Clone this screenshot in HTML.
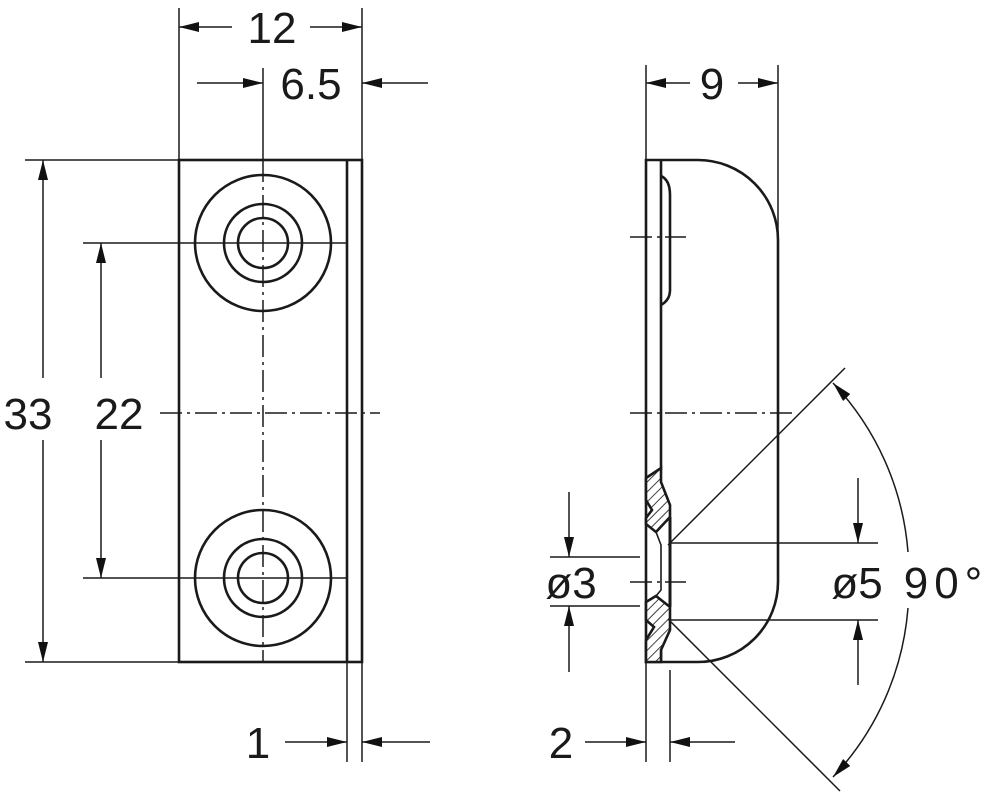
<!DOCTYPE html>
<html><head><style>html,body{margin:0;padding:0;background:#fff}svg{display:block}</style></head><body>
<svg width="1000" height="796" viewBox="0 0 1000 796" xmlns="http://www.w3.org/2000/svg">
<defs>
<marker id="a" viewBox="0 0 20 10" refX="20" refY="5" markerWidth="20" markerHeight="10" markerUnits="userSpaceOnUse" orient="auto"><path d="M0,0L20,5L0,10z" fill="#111"/></marker>
<pattern id="h" width="7" height="7" patternUnits="userSpaceOnUse" patternTransform="rotate(-45)"><rect width="7" height="7" fill="#fff"/><line x1="0" y1="0" x2="7" y2="0" stroke="#111" stroke-width="1.6"/></pattern>
</defs>
<g fill="none" stroke="#1a1a1a" font-family="Liberation Sans, sans-serif">
<!-- left view -->
<rect x="179" y="160" width="183" height="502" stroke-width="2.6"/>
<line x1="347" y1="160" x2="347" y2="662" stroke-width="2.6"/>
<g stroke-width="2.6">
<circle cx="263" cy="243" r="68"/><circle cx="263" cy="243" r="39"/><circle cx="263" cy="243" r="25"/>
<circle cx="263" cy="578" r="68"/><circle cx="263" cy="578" r="39"/><circle cx="263" cy="578" r="25"/>
</g>
<g stroke-width="1.5" stroke-dasharray="22,5,3,5">
<line x1="263" y1="160" x2="263" y2="662"/>
<line x1="160" y1="413" x2="380" y2="413"/>
</g>
<g stroke-width="1.5">
<line x1="263" y1="68" x2="263" y2="160"/>
<line x1="179" y1="8" x2="179" y2="160"/>
<line x1="362" y1="8" x2="362" y2="762"/>
<line x1="347" y1="662" x2="347" y2="762"/>
<line x1="25" y1="160" x2="179" y2="160"/>
<line x1="25" y1="662" x2="179" y2="662"/>
<line x1="83" y1="243" x2="347" y2="243"/>
<line x1="83" y1="578" x2="347" y2="578"/>
<line x1="232" y1="27" x2="179" y2="27" marker-end="url(#a)"/>
<line x1="310" y1="27" x2="362" y2="27" marker-end="url(#a)"/>
<line x1="197" y1="83" x2="263" y2="83" marker-end="url(#a)"/>
<line x1="428" y1="83" x2="362" y2="83" marker-end="url(#a)"/>
<line x1="43" y1="378" x2="43" y2="160" marker-end="url(#a)"/>
<line x1="43" y1="440" x2="43" y2="662" marker-end="url(#a)"/>
<line x1="101" y1="378" x2="101" y2="243" marker-end="url(#a)"/>
<line x1="101" y1="440" x2="101" y2="578" marker-end="url(#a)"/>
<line x1="285" y1="742" x2="347" y2="742" marker-end="url(#a)"/>
<line x1="430" y1="742" x2="362" y2="742" marker-end="url(#a)"/>
</g>
<!-- right view -->
<g stroke-width="2.6">
<path d="M646,160 L698,160 A80,80 0 0 1 778,240 L778,582 A80,80 0 0 1 698,662 L646,662 Z"/>
<line x1="661" y1="160" x2="661" y2="470"/>
<path d="M661,176 Q670,180 670,195 L670,290 Q670,300 661,305"/>
<line x1="670" y1="517" x2="670" y2="607" stroke-width="3"/>
<line x1="661" y1="640" x2="661" y2="662"/>
<path d="M646,478 L661,468 L661,482 L670,505 L670,517 L656,532 L646,524 L646,518 L652,510 L646,500 Z" fill="url(#h)"/>
<path d="M646,602 L656,596 L670,607 L670,630 L661,650 L661,662 L646,662 L646,640 L654,627 L646,620 Z" fill="url(#h)"/>
<path d="M656,532 L661,545 L661,590 L656,596" stroke-width="1.6"/>
</g>
<g stroke-width="1.5" stroke-dasharray="22,5,3,5">
<line x1="630" y1="413" x2="797" y2="413"/>
<line x1="630" y1="237" x2="686" y2="237"/>
<line x1="630" y1="582" x2="686" y2="582"/>
</g>
<g stroke-width="1.5">
<line x1="646" y1="65" x2="646" y2="762"/>
<line x1="778" y1="65" x2="778" y2="240"/>
<line x1="670" y1="670" x2="670" y2="762"/>
<line x1="690" y1="83" x2="646" y2="83" marker-end="url(#a)"/>
<line x1="738" y1="83" x2="778" y2="83" marker-end="url(#a)"/>
<line x1="585" y1="742" x2="646" y2="742" marker-end="url(#a)"/>
<line x1="735" y1="742" x2="670" y2="742" marker-end="url(#a)"/>
<line x1="550" y1="557" x2="640" y2="557"/>
<line x1="550" y1="606" x2="640" y2="606"/>
<line x1="569" y1="492" x2="569" y2="557" marker-end="url(#a)"/>
<line x1="569" y1="672" x2="569" y2="606" marker-end="url(#a)"/>
<line x1="670" y1="543" x2="878" y2="543"/>
<line x1="670" y1="620" x2="878" y2="620"/>
<line x1="858" y1="478" x2="858" y2="543" marker-end="url(#a)"/>
<line x1="858" y1="685" x2="858" y2="620" marker-end="url(#a)"/>
<line x1="668" y1="545" x2="845" y2="368"/>
<line x1="668" y1="619" x2="840" y2="791"/>
<path d="M908,552 A278,278 0 0 0 833,383" marker-end="url(#a)"/>
<path d="M908,608 A278,278 0 0 1 833,777" marker-end="url(#a)"/>
</g>
</g>
<g font-family="Liberation Sans, sans-serif" font-size="44" fill="#1a1a1a" text-anchor="middle">
<text x="272" y="43">12</text>
<text x="311" y="99">6.5</text>
<text x="28" y="429">33</text>
<text x="119" y="429">22</text>
<text x="258" y="758">1</text>
<text x="712" y="99">9</text>
<text x="561" y="758">2</text>
<text x="571" y="598">ø3</text>
<text x="857" y="598">ø5</text>
<text x="946" y="598" letter-spacing="6">90°</text>
</g>
</svg>
</body></html>
